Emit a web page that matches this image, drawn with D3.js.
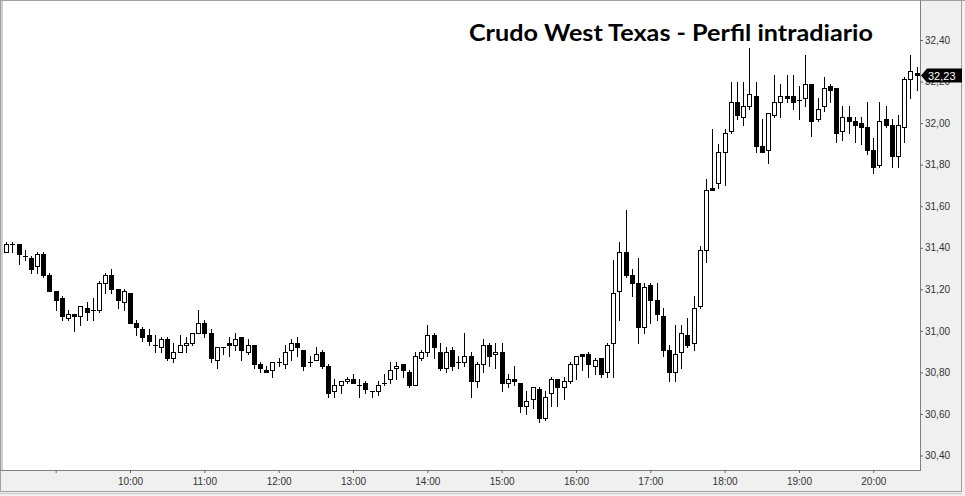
<!DOCTYPE html>
<html>
<head>
<meta charset="utf-8">
<script src="https://cdn.jsdelivr.net/npm/d3@7"></script>
<style>
  html, body { margin: 0; padding: 0; background: #f0f0f0; }
  svg { display: block; }
</style>
</head>
<body>
<div id="chart"></div>
<script>
var title = "Crudo West Texas - Perfil intradiario";
var startTime = "08:20";
var barMinutes = 5;

// 5 minute bars, 08:20 - 20:35
var opens = [
  31.38, 31.42, 31.42, 31.36, 31.35, 31.31, 31.37, 31.27, 31.19, 31.16,
  31.06, 31.08, 31.07, 31.11, 31.10, 31.10, 31.23, 31.27, 31.20, 31.14,
  31.18, 31.04, 31.01, 30.98, 30.93, 30.92, 30.96, 30.87, 30.90, 30.93,
  30.94, 30.99, 31.04, 30.99, 30.86, 30.92, 30.94, 30.93, 30.97, 30.90,
  30.93, 30.84, 30.81, 30.81, 30.85, 30.84, 30.91, 30.94, 30.91, 30.85,
  30.86, 30.90, 30.83, 30.71, 30.74, 30.76, 30.77, 30.74, 30.75, 30.71,
  30.71, 30.75, 30.77, 30.82, 30.84, 30.80, 30.74, 30.87, 30.90, 30.98,
  30.90, 30.82, 30.91, 30.85, 30.85, 30.88, 30.76, 30.84, 30.93, 30.89,
  30.90, 30.75, 30.77, 30.75, 30.64, 30.67, 30.72, 30.58, 30.70, 30.77,
  30.73, 30.76, 30.84, 30.89, 30.89, 30.83, 30.87, 30.80, 30.94, 31.19,
  31.38, 31.27, 31.23, 31.02, 31.22, 31.15, 31.07, 30.91, 30.80, 30.90,
  30.98, 30.94, 31.12, 31.39, 31.69, 31.71, 31.86, 31.96, 32.10, 32.03,
  32.08, 32.13, 31.89, 31.87, 32.04, 32.10, 32.13, 32.13, 32.11, 32.12,
  32.19, 32.02, 32.08, 32.18, 32.17, 31.96, 32.03, 32.01, 32.00, 31.98,
  31.87, 31.80, 32.02, 31.99, 31.84, 31.98, 32.21, 32.24
];
var highs = [
  31.43, 31.43, 31.42, 31.39, 31.36, 31.38, 31.38, 31.28, 31.19, 31.17,
  31.10, 31.08, 31.12, 31.14, 31.16, 31.24, 31.28, 31.30, 31.20, 31.20,
  31.18, 31.05, 31.02, 31.01, 30.98, 30.97, 30.97, 30.94, 30.98, 30.97,
  30.99, 31.10, 31.05, 31.01, 30.92, 30.92, 30.97, 30.99, 30.97, 30.96,
  30.93, 30.85, 30.83, 30.85, 30.87, 30.93, 30.96, 30.97, 30.91, 30.88,
  30.92, 30.91, 30.84, 30.77, 30.76, 30.78, 30.79, 30.77, 30.76, 30.71,
  30.76, 30.79, 30.85, 30.85, 30.84, 30.81, 30.90, 30.91, 31.03, 30.99,
  30.94, 30.92, 30.92, 30.88, 30.99, 30.90, 30.85, 30.96, 30.94, 30.94,
  30.94, 30.79, 30.83, 30.75, 30.71, 30.73, 30.73, 30.71, 30.78, 30.77,
  30.78, 30.85, 30.88, 30.89, 30.90, 30.87, 30.87, 30.94, 31.34, 31.43,
  31.58, 31.30, 31.35, 31.23, 31.23, 31.23, 31.11, 30.93, 31.03, 31.03,
  31.06, 31.17, 31.41, 31.73, 31.97, 31.90, 31.97, 32.20, 32.20, 32.20,
  32.36, 32.20, 32.02, 32.05, 32.23, 32.19, 32.23, 32.23, 32.18, 32.33,
  32.19, 32.12, 32.22, 32.19, 32.17, 32.08, 32.08, 32.03, 32.03, 32.10,
  31.93, 32.10, 32.08, 32.02, 32.04, 32.22, 32.33, 32.27
];
var lows = [
  31.38, 31.38, 31.32, 31.34, 31.28, 31.28, 31.26, 31.19, 31.10, 31.05,
  31.05, 31.00, 31.03, 31.05, 31.05, 31.09, 31.18, 31.18, 31.11, 31.10,
  31.04, 30.98, 30.95, 30.93, 30.90, 30.90, 30.86, 30.85, 30.90, 30.90,
  30.93, 30.99, 30.97, 30.85, 30.82, 30.89, 30.88, 30.91, 30.86, 30.89,
  30.82, 30.80, 30.80, 30.78, 30.83, 30.82, 30.86, 30.88, 30.81, 30.83,
  30.86, 30.82, 30.68, 30.68, 30.70, 30.75, 30.75, 30.68, 30.70, 30.68,
  30.69, 30.74, 30.75, 30.77, 30.78, 30.73, 30.74, 30.86, 30.88, 30.87,
  30.81, 30.80, 30.81, 30.82, 30.83, 30.68, 30.73, 30.80, 30.83, 30.82,
  30.71, 30.73, 30.74, 30.61, 30.60, 30.63, 30.56, 30.57, 30.64, 30.64,
  30.67, 30.75, 30.77, 30.81, 30.78, 30.79, 30.78, 30.78, 30.78, 31.05,
  31.26, 31.17, 30.94, 30.99, 31.04, 31.05, 30.88, 30.76, 30.76, 30.82,
  30.92, 30.91, 31.11, 31.33, 31.68, 31.69, 31.70, 31.95, 32.02, 31.99,
  32.07, 31.86, 31.86, 31.81, 32.03, 32.03, 32.10, 32.07, 32.02, 32.08,
  31.94, 32.01, 32.06, 32.10, 31.91, 31.92, 31.95, 31.91, 31.90, 31.85,
  31.76, 31.79, 31.98, 31.79, 31.79, 31.91, 32.12, 32.16
];
var closes = [
  31.42, 31.42, 31.37, 31.36, 31.30, 31.37, 31.27, 31.19, 31.15, 31.07,
  31.08, 31.07, 31.12, 31.09, 31.10, 31.23, 31.27, 31.20, 31.15, 31.19,
  31.04, 31.02, 30.97, 30.95, 30.93, 30.96, 30.87, 30.90, 30.93, 30.94,
  30.99, 31.04, 30.99, 30.87, 30.92, 30.92, 30.93, 30.96, 30.91, 30.93,
  30.84, 30.82, 30.80, 30.85, 30.85, 30.90, 30.94, 30.92, 30.83, 30.85,
  30.89, 30.83, 30.70, 30.74, 30.76, 30.77, 30.75, 30.74, 30.72, 30.71,
  30.74, 30.75, 30.81, 30.83, 30.81, 30.74, 30.88, 30.90, 30.98, 30.92,
  30.82, 30.90, 30.83, 30.85, 30.88, 30.76, 30.84, 30.93, 30.88, 30.90,
  30.75, 30.77, 30.76, 30.64, 30.66, 30.73, 30.58, 30.68, 30.77, 30.73,
  30.76, 30.84, 30.88, 30.88, 30.84, 30.86, 30.79, 30.93, 31.18, 31.38,
  31.27, 31.23, 31.02, 31.21, 31.15, 31.08, 30.91, 30.80, 30.89, 30.99,
  30.93, 31.11, 31.39, 31.68, 31.68, 31.86, 31.95, 32.10, 32.04, 32.08,
  32.14, 31.89, 31.86, 32.05, 32.10, 32.13, 32.12, 32.10, 32.11, 32.19,
  32.01, 32.07, 32.17, 32.16, 31.95, 32.03, 32.01, 31.99, 31.98, 31.87,
  31.79, 32.01, 31.99, 31.84, 31.99, 32.21, 32.25, 32.23
];

var priceTicks = [30.4, 30.6, 30.8, 31.0, 31.2, 31.4, 31.6, 31.8, 32.0, 32.2, 32.4];
var hourTicks = ["09:00", "10:00", "11:00", "12:00", "13:00", "14:00",
                 "15:00", "16:00", "17:00", "18:00", "19:00", "20:00"];
var hiddenHourLabels = ["09:00"];

var W = 965, H = 496;
var plotRight = 920, plotBottom = 470;
var axisFont = "'Liberation Sans', Arial, sans-serif";

var parseTime = d3.timeParse("%H:%M");
var fmtHour = d3.timeFormat("%H:%M");
var es = d3.formatLocale({ decimal: ",", thousands: ".", grouping: [3], currency: ["", " €"] });
var fmtPrice = es.format(".2f");

var t0 = parseTime(startTime);
var bars = opens.map(function (o, i) {
  return { t: d3.timeMinute.offset(t0, i * barMinutes), o: o, h: highs[i], l: lows[i], c: closes[i] };
});

var x = d3.scaleTime()
  .domain([parseTime("10:00"), parseTime("20:00")])
  .range([130, 873.3]);
var y = d3.scaleLinear()
  .domain([30.4, 32.4])
  .range([455.5, 40]);

var svg = d3.select("#chart").append("svg")
  .attr("width", W)
  .attr("height", H);

// frame
svg.append("rect").attr("width", W).attr("height", H).attr("fill", "#f0f0f0");
svg.append("rect")
  .attr("x", 3).attr("y", 1)
  .attr("width", plotRight - 3).attr("height", plotBottom - 1)
  .attr("fill", "#fff");

var frame = svg.append("g").attr("shape-rendering", "crispEdges");
frame.append("line").attr("x1", 0).attr("x2", W).attr("y1", 0.5).attr("y2", 0.5).attr("stroke", "#a0a0a0");
frame.append("line").attr("x1", 0.5).attr("x2", 0.5).attr("y1", 0).attr("y2", 492).attr("stroke", "#a0a0a0");
frame.append("rect").attr("x", 1).attr("y", 1).attr("width", 2).attr("height", plotBottom).attr("fill", "#d0d0d0");
frame.append("line").attr("x1", plotRight + 0.5).attr("x2", plotRight + 0.5).attr("y1", 0).attr("y2", plotBottom + 1).attr("stroke", "#808080");
frame.append("line").attr("x1", 0).attr("x2", plotRight + 1).attr("y1", plotBottom + 0.5).attr("y2", plotBottom + 0.5).attr("stroke", "#808080");
frame.append("line").attr("x1", 961.5).attr("x2", 961.5).attr("y1", 0).attr("y2", 492).attr("stroke", "#a0a0a0");
frame.append("line").attr("x1", 0).attr("x2", 962).attr("y1", 491.5).attr("y2", 491.5).attr("stroke", "#a0a0a0");
frame.append("line").attr("x1", 0).attr("x2", 962).attr("y1", 493.5).attr("y2", 493.5).attr("stroke", "#c8c8c8");

// candles
var candles = svg.append("g")
  .attr("class", "candles")
  .attr("shape-rendering", "crispEdges");

var bar = candles.selectAll("g.bar")
  .data(bars)
  .enter().append("g")
  .attr("class", "bar")
  .attr("transform", function (d) { return "translate(" + Math.round(x(d.t)) + ",0)"; });

bar.append("line")
  .attr("x1", 0.5).attr("x2", 0.5)
  .attr("y1", function (d) { return Math.round(y(d.h)); })
  .attr("y2", function (d) { return Math.round(y(d.l)) + 1; })
  .attr("stroke", "#000");

bar.append("rect")
  .attr("x", -1.5)
  .attr("width", 4)
  .attr("y", function (d) { return Math.round(y(Math.max(d.o, d.c))) + 0.5; })
  .attr("height", function (d) {
    var h = Math.round(y(Math.min(d.o, d.c))) - Math.round(y(Math.max(d.o, d.c)));
    return Math.max(h, 0.01);
  })
  .attr("fill", function (d) { return d.c < d.o ? "#000" : "#fff"; })
  .attr("stroke", "#000");

// price axis
var yAxis = d3.axisRight(y)
  .tickValues(priceTicks)
  .tickSize(3)
  .tickPadding(2)
  .tickFormat(fmtPrice);

svg.append("g")
  .attr("transform", "translate(" + plotRight + ",0)")
  .attr("font-family", axisFont)
  .attr("font-size", 11)
  .call(yAxis)
  .call(function (g) { g.select(".domain").remove(); })
  .call(function (g) { g.selectAll("line").attr("stroke", "#666"); })
  .call(function (g) { g.selectAll("text").attr("fill", "#333"); });

// time axis
var xAxis = d3.axisBottom(x)
  .tickValues(hourTicks.map(parseTime))
  .tickSize(3)
  .tickPadding(5)
  .tickFormat(function (d) {
    var s = fmtHour(d);
    return hiddenHourLabels.indexOf(s) >= 0 ? "" : s;
  });

svg.append("g")
  .attr("transform", "translate(0," + plotBottom + ")")
  .attr("font-family", axisFont)
  .attr("font-size", 11)
  .call(xAxis)
  .call(function (g) { g.select(".domain").remove(); })
  .call(function (g) { g.selectAll("line").attr("stroke", "#666"); })
  .call(function (g) { g.selectAll("text").attr("fill", "#333"); });

// last price marker
var last = bars[bars.length - 1];
var ly = Math.round(y(last.c)) + 0.5;
svg.append("path")
  .attr("d", "M" + (plotRight + 1) + "," + ly +
    " L" + (plotRight + 7) + "," + (ly - 7) +
    " L962," + (ly - 7) +
    " L962," + (ly + 7) +
    " L" + (plotRight + 7) + "," + (ly + 7) + " Z")
  .attr("fill", "#000");
svg.append("text")
  .attr("x", plotRight + 8)
  .attr("y", ly + 4)
  .attr("font-family", axisFont)
  .attr("font-size", 11)
  .attr("fill", "#fff")
  .text(fmtPrice(last.c));

// title
svg.append("text")
  .attr("x", 469)
  .attr("y", 41)
  .attr("font-family", "Lato, 'Open Sans', sans-serif")
  .attr("font-weight", "bold")
  .attr("font-size", 22)
  .attr("textLength", 404)
  .attr("lengthAdjust", "spacingAndGlyphs")
  .attr("fill", "#000")
  .text(title);
</script>
</body>
</html>
